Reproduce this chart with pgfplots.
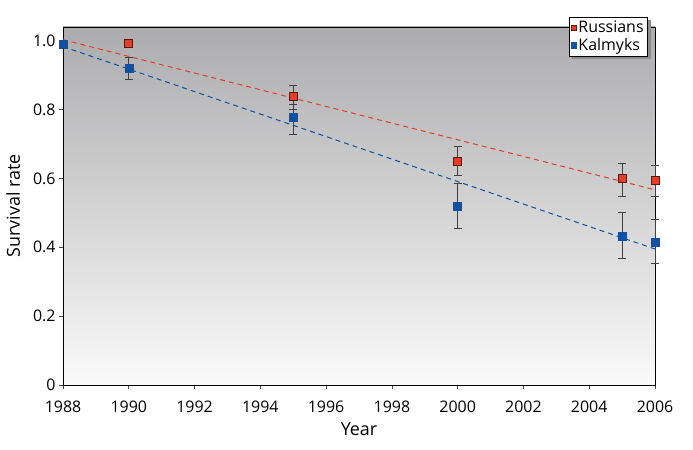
\documentclass[border=0pt]{standalone}
\usepackage{pgfplots}
\pgfplotsset{compat=1.18}
\usepackage{fontspec}
\setmainfont{Open Sans}
\usetikzlibrary{shadows}
\definecolor{rred}{RGB}{228,62,42}
\definecolor{rborder}{RGB}{90,25,15}
\definecolor{kblue}{RGB}{16,80,165}
\definecolor{bgtop}{RGB}{172,172,174}
\definecolor{bgbot}{RGB}{250,250,250}
\begin{document}
\begin{tikzpicture}
\useasboundingbox (0,0) rectangle (693bp,450bp);
\begin{axis}[
  at={(63bp,65bp)}, anchor=south west,
  scale only axis, width=592bp, height=358bp,
  xmin=1988, xmax=2006, ymin=0, ymax=1.04,
  clip=false,
  axis background/.style={top color=bgtop, bottom color=bgbot},
  axis line style={black, line width=0.8pt},
  xtick={1988,1990,...,2006},
  ytick={0,0.2,0.4,0.6,0.8,1.0},
  yticklabels={0,0.2,0.4,0.6,0.8,1.0},
  xticklabel style={/pgf/number format/1000 sep={}, yshift=-8bp},
  /pgf/number format/assume math mode=true,
  tick align=outside, tick pos=left,
  major tick length=4bp,
  tick style={black!70, line width=0.6pt},
  ticklabel style={font=\fontsize{16}{18}\selectfont},
  xlabel={Year}, ylabel={Survival rate},
  label style={font=\fontsize{18}{20}\selectfont},
  xlabel style={yshift=-4bp},
  ylabel style={yshift=6bp},
  legend style={at={(rel axis cs:0.988,1.028)}, anchor=north east,
    draw=black, fill=white, line width=0.6pt,
    drop shadow={shadow xshift=3bp, shadow yshift=-3bp, fill=black!45, opacity=1},
    font=\fontsize{16}{18}\selectfont, inner xsep=2bp, inner ysep=2bp,
    row sep=0bp},
  legend cell align=left,
  legend image code/.code={\draw[#1, mark size=2.6bp] plot coordinates {(0.08cm,0cm)};},
  error bars/error bar style={black!75, line width=0.8pt},
  error bars/error mark options={rotate=90, mark size=4bp, black!75, line width=0.8pt},
]
\addplot[forget plot, rred, dashed, line width=1pt, dash pattern=on 5bp off 4bp] coordinates {(1988,1.003) (2006,0.567)};
\addplot[forget plot, kblue, dashed, line width=1pt, dash pattern=on 5bp off 4bp] coordinates {(1988,0.983) (2006,0.395)};

\addplot[only marks, mark=square*, mark size=4bp, mark options={fill=rred, draw=rborder, line width=0.8pt},
  error bars/.cd, y dir=both, y explicit]
  table[x=x, y=y, y error plus=ep, y error minus=em] {
x y ep em
1990 0.991 0 0
1995 0.837 0.032 0.037
2000 0.651 0.041 0.041
2005 0.599 0.046 0.050
2006 0.593 0.044 0.044
};
\addlegendentry{Russians}
\addplot[only marks, mark=square*, mark size=4bp, mark options={fill=kblue, draw=kblue, line width=0.4pt},
  error bars/.cd, y dir=both, y explicit]
  table[x=x, y=y, y error plus=ep, y error minus=em] {
x y ep em
1988 0.990 0 0
1990 0.921 0.032 0.034
1995 0.779 0.035 0.052
2000 0.520 0.067 0.064
2005 0.433 0.067 0.064
2006 0.416 0.064 0.064
};
\addlegendentry{Kalmyks}
\end{axis}
\end{tikzpicture}
\end{document}
